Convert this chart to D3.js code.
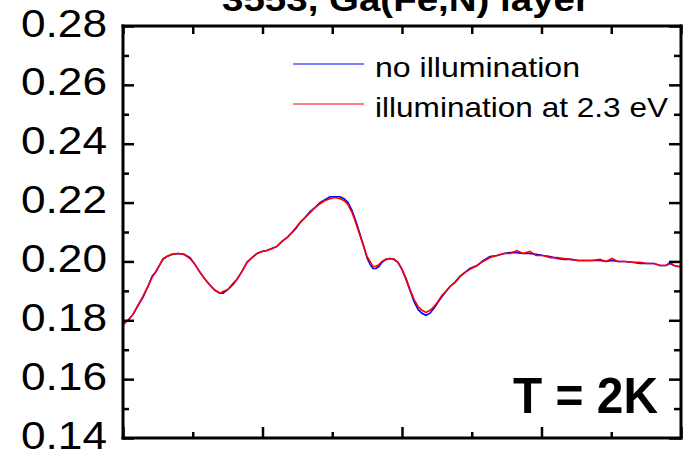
<!DOCTYPE html>
<html>
<head>
<meta charset="utf-8">
<script src="https://cdn.jsdelivr.net/npm/d3@7"></script>
<style>
  html, body { margin: 0; padding: 0; background: #fff; }
  svg { display: block; }
  text { font-family: "Liberation Sans", Arial, sans-serif; fill: #000; }
</style>
</head>
<body>
<svg id="chart" width="688" height="450"></svg>
<script>
// Photon energy (eV) of each sample point
const energy = [1.000,1.036,1.072,1.108,1.143,1.179,1.208,1.237,1.265,1.287,1.315,1.351,1.394,1.437,1.480,1.516,1.552,1.588,1.624,1.659,1.695,1.717,1.753,1.789,1.817,1.853,1.889,1.925,1.961,1.996,2.032,2.068,2.104,2.140,2.176,2.211,2.240,2.269,2.305,2.341,2.376,2.412,2.448,2.484,2.520,2.556,2.584,2.613,2.642,2.670,2.699,2.728,2.749,2.771,2.792,2.814,2.835,2.857,2.885,2.914,2.943,2.971,3.000,3.029,3.057,3.086,3.115,3.143,3.172,3.201,3.229,3.258,3.287,3.315,3.344,3.380,3.416,3.452,3.487,3.538,3.581,3.631,3.681,3.731,3.774,3.824,3.867,3.918,3.961,4.011,4.061,4.111,4.161,4.211,4.262,4.312,4.362,4.419,4.462,4.505,4.548,4.599,4.649,4.706,4.756,4.806,4.849,4.892,4.921,4.950,4.978,5.000];

// Reflectance without illumination
const reflDark = [0.1786,0.1800,0.1820,0.1851,0.1878,0.1915,0.1949,0.1966,0.1990,0.2007,0.2017,0.2024,0.2027,0.2024,0.2013,0.1990,0.1963,0.1939,0.1919,0.1902,0.1892,0.1892,0.1905,0.1922,0.1939,0.1966,0.1997,0.2013,0.2027,0.2034,0.2037,0.2044,0.2051,0.2068,0.2081,0.2098,0.2112,0.2132,0.2149,0.2169,0.2183,0.2200,0.2210,0.2220,0.2220,0.2220,0.2213,0.2200,0.2173,0.2136,0.2092,0.2047,0.2013,0.1990,0.1976,0.1976,0.1983,0.1997,0.2007,0.2010,0.2007,0.1997,0.1973,0.1939,0.1902,0.1864,0.1837,0.1824,0.1817,0.1824,0.1841,0.1861,0.1881,0.1898,0.1915,0.1929,0.1949,0.1963,0.1976,0.1986,0.2003,0.2017,0.2020,0.2027,0.2030,0.2030,0.2027,0.2027,0.2024,0.2020,0.2017,0.2010,0.2007,0.2007,0.2003,0.2003,0.2003,0.2003,0.2000,0.2003,0.2000,0.2000,0.1997,0.1993,0.1993,0.1993,0.1986,0.1986,0.1993,0.1986,0.1983,0.1983];

// Reflectance under illumination at 2.3 eV
const reflLight = [0.1786,0.1800,0.1820,0.1851,0.1881,0.1915,0.1946,0.1966,0.1990,0.2010,0.2017,0.2024,0.2027,0.2024,0.2010,0.1990,0.1963,0.1939,0.1919,0.1902,0.1892,0.1898,0.1905,0.1926,0.1939,0.1966,0.1997,0.2013,0.2027,0.2034,0.2037,0.2044,0.2051,0.2068,0.2081,0.2098,0.2115,0.2132,0.2149,0.2166,0.2183,0.2196,0.2207,0.2213,0.2217,0.2213,0.2207,0.2193,0.2166,0.2129,0.2088,0.2047,0.2017,0.2000,0.1983,0.1983,0.1990,0.2000,0.2007,0.2010,0.2007,0.1997,0.1973,0.1943,0.1905,0.1871,0.1847,0.1834,0.1827,0.1834,0.1847,0.1864,0.1885,0.1898,0.1915,0.1929,0.1949,0.1963,0.1973,0.1986,0.2000,0.2013,0.2020,0.2027,0.2027,0.2037,0.2027,0.2034,0.2020,0.2020,0.2013,0.2013,0.2010,0.2007,0.2003,0.2003,0.2003,0.2007,0.2000,0.2010,0.2000,0.2000,0.1997,0.1997,0.1993,0.1993,0.1986,0.1986,0.1997,0.1986,0.1983,0.1983];

const seriesNames = ["no illumination", "illumination at 2.3 eV"];
const seriesColors = ["#0000ff", "#ff0000"];
const yTickValues = [0.14, 0.16, 0.18, 0.20, 0.22, 0.24, 0.26, 0.28];
const yTickLabels = ["0.14", "0.16", "0.18", "0.20", "0.22", "0.24", "0.26", "0.28"];
const xMajorTicks = [1, 2, 3, 4, 5];
const xMinorTicks = [1.5, 2.5, 3.5, 4.5];
const yMinorTicks = [0.15, 0.17, 0.19, 0.21, 0.23, 0.25, 0.27];
const titleText = "3553, Ga(Fe,N) layer";
const tempLabel = "T = 2K";

const svg = d3.select("#chart");
const L = 123, R = 681, T = 26, B = 438;
const frameW = 3;

const x = d3.scaleLinear().domain([1, 5]).range([L, R]);
const y = d3.scaleLinear().domain([0.14, 0.28]).range([B, T]);

// Curves
const rows = energy.map((e, i) => ({ e, dark: reflDark[i], light: reflLight[i] }));
const lineDark = d3.line().x(d => x(d.e)).y(d => y(d.dark));
const lineLight = d3.line().x(d => x(d.e)).y(d => y(d.light));

svg.append("path").datum(rows).attr("d", lineDark)
  .attr("fill", "none").attr("stroke", seriesColors[0]).attr("stroke-width", 1.6);
svg.append("path").datum(rows).attr("d", lineLight)
  .attr("fill", "none").attr("stroke", seriesColors[1]).attr("stroke-width", 1.6);

// Inward ticks on all four sides
function addAxis(axisFn, scale, transform, ticks, size) {
  const a = axisFn(scale).tickValues(ticks).tickSize(size).tickFormat("");
  const g = svg.append("g").attr("transform", transform).call(a);
  g.select(".domain").remove();
  g.selectAll(".tick line").attr("stroke", "#000").attr("stroke-width", 2.5);
  return g;
}
addAxis(d3.axisBottom, x, `translate(0,${B})`, xMajorTicks, -11);
addAxis(d3.axisBottom, x, `translate(0,${B})`, xMinorTicks, -6);
addAxis(d3.axisTop, x, `translate(0,${T})`, xMajorTicks, -8);
addAxis(d3.axisTop, x, `translate(0,${T})`, xMinorTicks, -8);
addAxis(d3.axisLeft, y, `translate(${L},0)`, yTickValues, -11);
addAxis(d3.axisLeft, y, `translate(${L},0)`, yMinorTicks, -6);
addAxis(d3.axisRight, y, `translate(${R},0)`, yTickValues, -12);
addAxis(d3.axisRight, y, `translate(${R},0)`, yMinorTicks, -7);

// Frame drawn as four solid bars
const h = frameW / 2;
const frame = svg.append("g").attr("fill", "#000");
frame.append("rect").attr("x", L - h).attr("y", T - h).attr("width", R - L + frameW).attr("height", frameW);
frame.append("rect").attr("x", L - h).attr("y", B - h).attr("width", R - L + frameW).attr("height", frameW);
frame.append("rect").attr("x", L - h).attr("y", T - h).attr("width", frameW).attr("height", B - T + frameW);
frame.append("rect").attr("x", R - h).attr("y", T - h).attr("width", frameW).attr("height", B - T + frameW);

// Y tick labels
svg.append("g").selectAll("text").data(yTickValues).join("text")
  .attr("x", 107).attr("y", d => y(d) + 10.5)
  .attr("text-anchor", "end")
  .attr("font-size", 38)
  .attr("textLength", 86).attr("lengthAdjust", "spacingAndGlyphs")
  .text((d, i) => yTickLabels[i]);

// Title (sits partly above the page edge)
svg.append("text").attr("x", 406).attr("y", 11).attr("text-anchor", "middle")
  .attr("font-size", 34).attr("font-weight", "bold")
  .attr("textLength", 368).attr("lengthAdjust", "spacingAndGlyphs")
  .text(titleText);

// Legend
const legendY = [64, 104];
const legendLen = [205, 293];
seriesNames.forEach((name, i) => {
  svg.append("line").attr("x1", 293).attr("x2", 364)
    .attr("y1", legendY[i]).attr("y2", legendY[i])
    .attr("stroke", seriesColors[i]).attr("stroke-width", 1);
  svg.append("text").attr("x", 375).attr("y", legendY[i] + 13)
    .attr("font-size", 28)
    .attr("textLength", legendLen[i]).attr("lengthAdjust", "spacingAndGlyphs")
    .text(name);
});

// Temperature annotation
svg.append("text").attr("x", 513).attr("y", 413)
  .attr("font-size", 50).attr("font-weight", "bold")
  .attr("textLength", 145).attr("lengthAdjust", "spacingAndGlyphs")
  .text(tempLabel);
</script>
</body>
</html>
